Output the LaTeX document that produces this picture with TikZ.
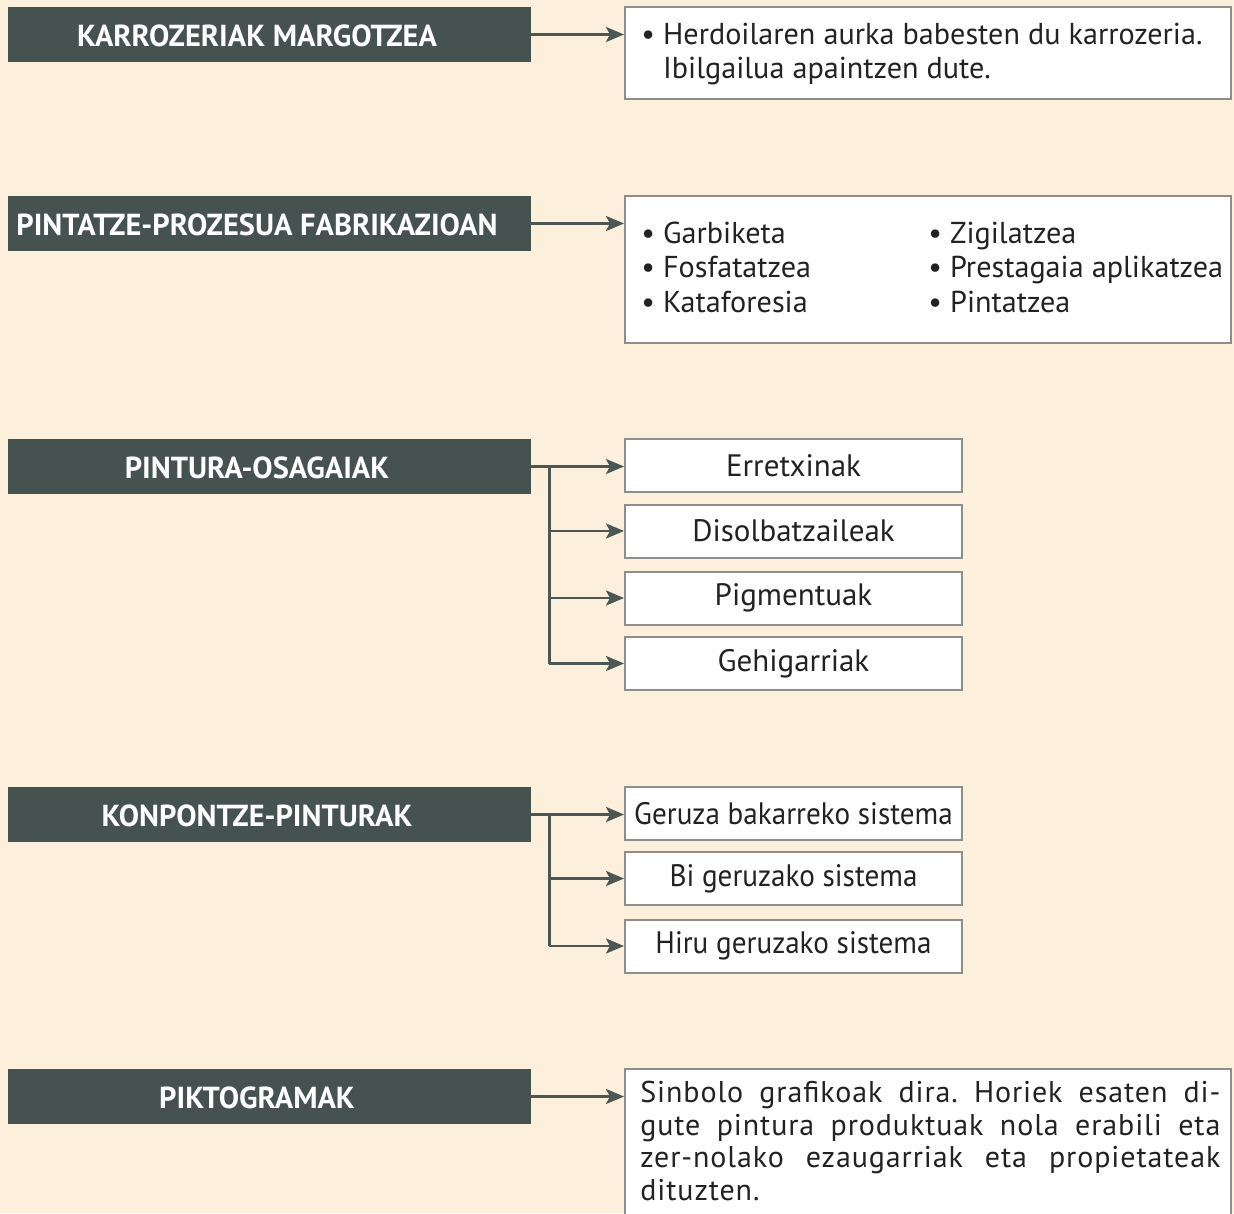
\documentclass[tikz,border=0pt]{standalone}
\usepackage{fontspec}
\setmainfont{PT Sans}
\newfontfamily\narrowfont[FakeStretch=0.94]{PT Sans}
\newfontfamily\spacedfont[LetterSpace=3]{PT Sans}
\usetikzlibrary{arrows.meta,calc}
\definecolor{bg}{HTML}{FCF0DC}
\definecolor{slate}{HTML}{45524F}
\definecolor{edgec}{HTML}{8E8E8A}
\definecolor{arrowc}{HTML}{4B5754}
\definecolor{ink}{HTML}{222222}
\tikzset{
  darkbox/.style={fill=slate, draw=none, minimum width=261.5pt, minimum height=27.5pt, inner sep=0pt},
  headtext/.style={text=white, font=\bfseries\fontsize{15.2}{18}\selectfont, inner sep=0pt},
  whitebox/.style={fill=white, draw=edgec, line width=1pt, inner sep=0pt},
  itembox/.style={whitebox, minimum width=168.5pt, minimum height=26.5pt, text=ink, font=\fontsize{15.5}{17}\selectfont},
  narrowitem/.style={itembox, font=\narrowfont\fontsize{15.5}{17}\selectfont},
  bodytext/.style={text=ink, font=\fontsize{15.1}{17.25}\selectfont, inner sep=0pt, align=left},
  arr/.style={draw=arrowc, line width=1.3pt, -{Stealth[length=9pt,width=7.5pt,inset=2pt]}},
  branch/.style={draw=arrowc, line width=1.3pt}
}
\begin{document}
\begin{tikzpicture}[x=0.5pt,y=-0.5pt]
\fill[bg] (0,0) rectangle (1234,1213);
\useasboundingbox (0,0) rectangle (1234,1213);
\clip (0,0) rectangle (1234,1213);

% header boxes
\node[darkbox] (h1) at (269.5,34.5) {};
\node[darkbox] (h2) at (269.5,223.5) {};
\node[darkbox] (h3) at (269.5,466.5) {};
\node[darkbox] (h4) at (269.5,814.5) {};
\node[darkbox] (h5) at (269.5,1096.5) {};
\node[headtext] (t1) at (257,35.5) {KARROZERIAK MARGOTZEA};
\node[headtext] (t2) at (257,224.5) {PINTATZE-PROZESUA FABRIKAZIOAN};
\node[headtext] (t3) at (257,467.5) {PINTURA-OSAGAIAK};
\node[headtext] (t4) at (257,815.5) {KONPONTZE-PINTURAK};
\node[headtext] (t5) at (257,1097.5) {PIKTOGRAMAK};

% box 1
\node[whitebox, minimum width=303pt, minimum height=46pt] (w1) at (928,53) {};
\node[bodytext, anchor=west] (w1t) at (641,54) {• Herdoilaren aurka babesten du karrozeria.\\\phantom{• }Ibilgailua apaintzen dute.};

% box 2
\node[whitebox, minimum width=303pt, minimum height=73.5pt] (w2) at (928,269.5) {};
\node[bodytext, anchor=west] (w2a) at (641,267) {• Garbiketa\\• Fosfatatzea\\• Kataforesia};
\node[bodytext, anchor=west] (w2b) at (928,267) {• Zigilatzea\\• Prestagaia aplikatzea\\• Pintatzea};

% paint components
\node[itembox] (e1) at (793.5,465.5) {Erretxinak};
\node[itembox] (e2) at (793.5,531) {Disolbatzaileak};
\node[itembox] (e3) at (793.5,598) {Pigmentuak};
\node[itembox] (e4) at (793.5,663.5) {Gehigarriak};

% repair paints
\node[narrowitem] (k1) at (793.5,813.5) {Geruza bakarreko sistema};
\node[narrowitem] (k2) at (793.5,878.5) {Bi geruzako sistema};
\node[narrowitem] (k3) at (793.5,946) {Hiru geruzako sistema};

% pictograms
\node[whitebox, minimum width=303pt, minimum height=80.5pt] (w5) at (928,1149.5) {};
\node[bodytext, anchor=north west, font=\spacedfont\fontsize{15}{16.25}\selectfont\frenchspacing] (w5t) at (640,1081) {%
\makebox[290pt][s]{Sinbolo grafikoak dira. Horiek esaten di-}\\
\makebox[290pt][s]{gute pintura produktuak nola erabili eta}\\
\makebox[290pt][s]{zer-nolako ezaugarriak eta propietateak}\\
dituzten.};

% connectors
\draw[arr] (h1.east) -- (h1.east -| w1.west);
\draw[arr] (h2.east) -- (h2.east -| w2.west);
\draw[arr] (h3.east) -- (h3.east -| e1.west);
\draw[arr] (h4.east) -- (h4.east -| k1.west);
\draw[arr] (h5.east) -- (h5.east -| w5.west);
\coordinate (b3) at ($(h3.east)+(18,0)$);
\coordinate (b4) at ($(h4.east)+(18,0)$);
\draw[branch] (b3) -- (b3 |- e4.west);
\draw[arr] (b3 |- e2.west) -- (e2.west);
\draw[arr] (b3 |- e3.west) -- (e3.west);
\draw[arr] (b3 |- e4.west) -- (e4.west);
\draw[branch] (b4) -- (b4 |- k3.west);
\draw[arr] (b4 |- k2.west) -- (k2.west);
\draw[arr] (b4 |- k3.west) -- (k3.west);
\end{tikzpicture}
\end{document}
